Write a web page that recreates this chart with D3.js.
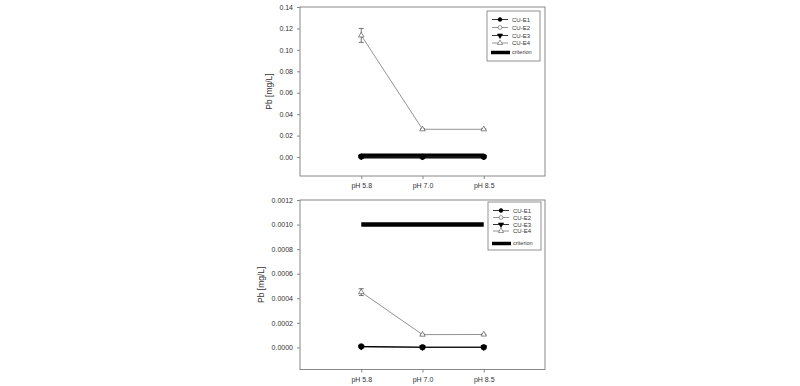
<!DOCTYPE html>
<html>
<head>
<meta charset="utf-8">
<script src="https://cdn.jsdelivr.net/npm/d3@7"></script>
<style>
  body { margin: 0; background: #fff; }
  svg { display: block; }
  text { font-family: "Liberation Sans", Arial, sans-serif; fill: #333; }
</style>
</head>
<body>
<div id="chart"></div>
<script>
// categories on the x axis
var categories = ['pH 5.8', 'pH 7.0', 'pH 8.5'];
var seriesNames = ['CU-E1', 'CU-E2', 'CU-E3', 'CU-E4'];

// top panel values (mg/L)
var topE1 = [0.0004, 0.0002, 0.0002];
var topE2 = [0.0003, 0.0002, 0.0002];
var topE3 = [0.0003, 0.0002, 0.0002];
var topE4 = [0.1135, 0.0259, 0.0259];
var topE4Err = [0.0065, 0.0005, 0.0005];
var topCriterion = 0.001;
var topTicks = [0, 0.02, 0.04, 0.06, 0.08, 0.10, 0.12, 0.14];

// bottom panel values (mg/L)
var botE1 = [0.000008, 0.000001, 0.000001];
var botE2 = [0.000004, 0.000001, 0.000001];
var botE3 = [0.000004, 0.000001, 0.000001];
var botE4 = [0.00045, 0.000104, 0.000105];
var botE4Err = [0.000028, 0.000003, 0.000003];
var botCriterion = 0.001;
var botTicks = [0, 0.0002, 0.0004, 0.0006, 0.0008, 0.0010, 0.0012];

var width = 800, height = 386;
var svg = d3.select('#chart').append('svg')
    .attr('width', width)
    .attr('height', height);

var markerStyle = [
    { shape: d3.symbolCircle, fill: '#000', stroke: '#000', line: '#000' },
    { shape: d3.symbolCircle, fill: '#fff', stroke: '#555', line: '#777' },
    { shape: d3.symbolTriangle, fill: '#000', stroke: '#000', line: '#000', rot: 180 },
    { shape: d3.symbolTriangle, fill: '#fff', stroke: '#555', line: '#777' }
];

function drawPanel(opt) {
    var g = svg.append('g');
    var x = d3.scaleLinear().domain([-1, 3]).range([300, 545]);
    var y = d3.scaleLinear().domain(opt.yDomain).range([opt.bottom, opt.top]);

    // frame
    g.append('rect')
        .attr('x', 300).attr('y', opt.top)
        .attr('width', 245).attr('height', opt.bottom - opt.top)
        .attr('fill', 'none').attr('stroke', '#888').attr('stroke-width', 1);

    var yAxis = g.append('g')
        .attr('transform', 'translate(300,0)')
        .call(d3.axisLeft(y).tickValues(opt.ticks).tickFormat(d3.format(opt.fmt)).tickSize(3).tickSizeOuter(0));
    yAxis.select('.domain').remove();
    yAxis.selectAll('line').attr('stroke', '#888');
    yAxis.selectAll('text').attr('font-size', 7).attr('x', -7).style('fill', '#333');

    var xAxis = g.append('g')
        .attr('transform', 'translate(0,' + opt.bottom + ')')
        .call(d3.axisBottom(x).tickValues([0, 1, 2]).tickFormat(function(d) { return categories[d]; }).tickSize(3).tickSizeOuter(0));
    xAxis.select('.domain').remove();
    xAxis.selectAll('line').attr('stroke', '#888');
    xAxis.selectAll('text').attr('font-size', 7).attr('dy', '0.9em').style('fill', '#333');

    g.append('text')
        .attr('transform', 'translate(' + opt.labelX + ',' + ((opt.top + opt.bottom) / 2) + ') rotate(-90)')
        .attr('text-anchor', 'middle')
        .attr('font-size', 8.5)
        .text('Pb [mg/L]');

    // criterion
    g.append('line')
        .attr('x1', x(0)).attr('x2', x(2))
        .attr('y1', y(opt.criterion)).attr('y2', y(opt.criterion))
        .attr('stroke', '#000').attr('stroke-width', opt.critWidth);

    var line = d3.line().x(function(d, i) { return x(i); }).y(function(d) { return y(d); });

    // draw E4 first, then E3, E2, E1 on top
    [3, 2, 1, 0].forEach(function(s) {
        var vals = opt.series[s];
        var st = markerStyle[s];
        g.append('path').datum(vals)
            .attr('d', line)
            .attr('fill', 'none')
            .attr('stroke', st.line)
            .attr('stroke-width', s === 0 ? 1 : 0.8);
        if (s === 3) {
            vals.forEach(function(v, i) {
                var e = opt.err[i];
                var eg = g.append('g').attr('stroke', '#555').attr('stroke-width', 0.8);
                eg.append('line').attr('x1', x(i)).attr('x2', x(i)).attr('y1', y(v - e)).attr('y2', y(v + e));
                eg.append('line').attr('x1', x(i) - 2.5).attr('x2', x(i) + 2.5).attr('y1', y(v - e)).attr('y2', y(v - e));
                eg.append('line').attr('x1', x(i) - 2.5).attr('x2', x(i) + 2.5).attr('y1', y(v + e)).attr('y2', y(v + e));
            });
        }
        g.selectAll(null).data(vals).enter().append('path')
            .attr('d', d3.symbol().type(st.shape).size(s === 0 ? 24 : 13))
            .attr('transform', function(d, i) {
                return 'translate(' + x(i) + ',' + y(d) + ')' + (st.rot ? ' rotate(' + st.rot + ')' : '');
            })
            .attr('fill', st.fill).attr('stroke', st.stroke).attr('stroke-width', 0.7);
    });

    // legend
    var lg = g.append('g');
    lg.append('rect')
        .attr('x', opt.legX).attr('y', opt.legY)
        .attr('width', 53).attr('height', opt.legH)
        .attr('fill', '#fff').attr('stroke', '#777').attr('stroke-width', 0.8);
    seriesNames.forEach(function(name, i) {
        var st = markerStyle[i];
        var ry = opt.legY + opt.rows[i];
        lg.append('line')
            .attr('x1', opt.legX + 5).attr('x2', opt.legX + 21)
            .attr('y1', ry).attr('y2', ry)
            .attr('stroke', st.line).attr('stroke-width', 0.8);
        lg.append('path')
            .attr('d', d3.symbol().type(st.shape).size(12))
            .attr('transform', 'translate(' + (opt.legX + 13) + ',' + ry + ')' + (st.rot ? ' rotate(' + st.rot + ')' : ''))
            .attr('fill', st.fill).attr('stroke', st.stroke).attr('stroke-width', 0.6);
        lg.append('text')
            .attr('x', opt.legX + 25).attr('y', ry)
            .attr('dy', '0.35em')
            .attr('font-size', 6)
            .text(name);
    });
    var cy = opt.legY + opt.rows[4];
    lg.append('line')
        .attr('x1', opt.legX + 4).attr('x2', opt.legX + 23)
        .attr('y1', cy).attr('y2', cy)
        .attr('stroke', '#000').attr('stroke-width', 3.5);
    lg.append('text')
        .attr('x', opt.legX + 25).attr('y', cy)
        .attr('dy', '0.35em')
        .attr('font-size', 5.5)
        .text('criterion');
}

drawPanel({
    top: 7, bottom: 176,
    yDomain: [-0.0177, 0.14],
    ticks: topTicks, fmt: '.2f',
    labelX: 272,
    criterion: topCriterion, critWidth: 5,
    series: [topE1, topE2, topE3, topE4],
    err: topE4Err,
    legX: 487, legY: 11, legH: 50,
    rows: [8.5, 16.5, 24.5, 32, 41.5]
});

drawPanel({
    top: 200, bottom: 369.5,
    yDomain: [-0.00018, 0.0012],
    ticks: botTicks, fmt: '.4f',
    labelX: 264,
    criterion: botCriterion, critWidth: 4.5,
    series: [botE1, botE2, botE3, botE4],
    err: botE4Err,
    legX: 488, legY: 202, legH: 48,
    rows: [8.5, 15.5, 22.5, 29, 41.5]
});
</script>
</body>
</html>
